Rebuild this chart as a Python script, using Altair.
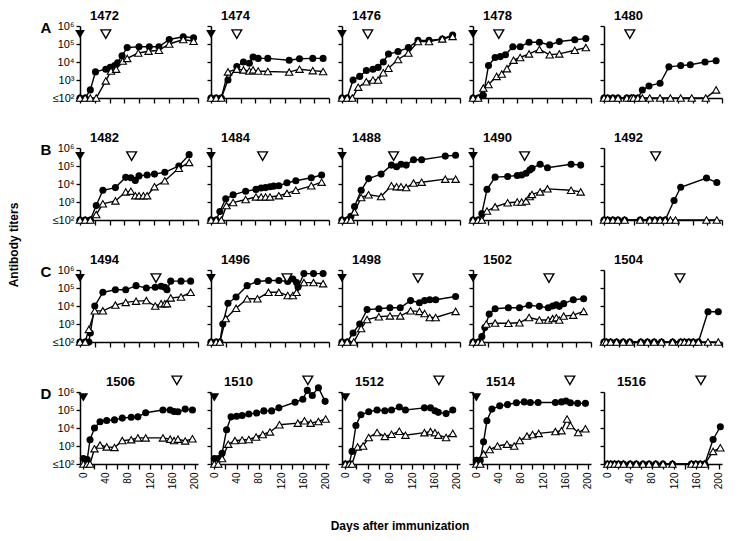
import altair as alt
import pandas as pd

FONT = "Liberation Sans"

ROW_LETTERS = ["A", "B", "C", "D"]
PANEL_IDS = [
    ["1472", "1474", "1476", "1478", "1480"],
    ["1482", "1484", "1488", "1490", "1492"],
    ["1494", "1496", "1498", "1502", "1504"],
    ["1506", "1510", "1512", "1514", "1516"],
]
PRIME_DAY = 0
BOOST_DAY = [35, 70, 103, 168]
Y_TICKS = [1e2, 1e3, 1e4, 1e5, 1e6]
Y_LABELS = ["≤10²", "10³", "10⁴", "10⁵", "10⁶"]
X_TICKS_ABC = list(range(0, 161, 20))
X_TICKS_D = list(range(0, 201, 20))
X_LABEL_STEP_D = 40

# (day, log10 titer); 2 = "<=10^2"
m1472_circles = [(0,2),(7,2),(14,2.45),(21,3.45),(35,3.6),(41,3.7),(47,3.8),(51,3.95),(57,4.35),(64,4.8),(80,4.85),(94,4.85),(107,4.85),(121,5.25),(140,5.4),(154,5.35)]
m1472_triangles = [(0,2),(7,2),(14,2),(22,2),(35,2.95),(42,3.5),(49,3.6),(58,4.05),(64,4.2),(79,4.5),(93,4.6),(107,4.65),(121,5.0),(140,5.25),(154,5.15)]
m1474_circles = [(0,2),(7,2),(14,2),(23,3.0),(35,3.75),(44,4.0),(52,3.93),(57,4.28),(64,4.2),(77,4.2),(106,4.1),(120,4.18),(138,4.2),(152,4.2)]
m1474_triangles = [(0,2),(7,2),(14,2),(23,3.45),(35,3.6),(44,3.56),(52,3.5),(57,3.56),(64,3.5),(77,3.47),(106,3.44),(120,3.6),(138,3.52),(152,3.47)]
m1476_circles = [(0,2),(7,2),(15,3.0),(24,3.2),(33,3.53),(42,3.6),(49,3.7),(56,4.0),(63,4.44),(76,4.58),(90,4.8),(103,5.2),(118,5.2),(136,5.28),(150,5.5)]
m1476_triangles = [(0,2),(7,2),(14,2),(22,2.6),(33,2.9),(42,3.0),(49,3.0),(56,3.4),(63,3.65),(76,4.14),(90,4.5),(103,5.14),(118,5.14),(136,5.28),(150,5.42)]
m1478_circles = [(0,2),(7,2),(14,2.15),(21,3.8),(30,4.25),(37,4.3),(44,4.4),(54,4.85),(64,4.85),(76,5.1),(90,5.1),(104,4.95),(117,5.14),(138,5.24),(153,5.3)]
m1478_triangles = [(0,2),(7,2),(14,2.55),(21,2.75),(32,3.2),(39,3.33),(46,3.63),(55,4.1),(64,4.25),(76,4.45),(90,4.7),(104,4.4),(117,4.45),(138,4.65),(153,4.8)]
m1480_circles = [(0,2),(5,2),(12,2),(19,2),(31,2),(37,2),(40,2),(46,2),(52,2.44),(61,2.67),(76,2.82),(88,3.73),(104,3.8),(117,3.85),(137,4.0),(152,4.07)]
m1480_triangles = [(0,2),(5,2),(12,2),(19,2),(31,2),(37,2),(40,2),(46,2),(52,2),(62,2),(76,2),(90,2),(104,2),(119,2),(138,2),(152,2.45)]

m1482_circles = [(0,2),(7,2),(14,2),(22,2.8),(31,3.65),(48,3.8),(62,4.37),(69,4.35),(75,4.2),(80,4.45),(91,4.5),(101,4.55),(115,4.65),(134,5.0),(148,5.63)]
m1482_triangles = [(0,2),(7,2),(14,2),(22,2.3),(31,2.9),(48,3.06),(62,3.56),(69,3.6),(75,3.35),(80,3.35),(86,3.35),(91,3.35),(101,3.85),(115,4.18),(134,4.87),(148,5.2)]
m1484_circles = [(0,2),(7,2),(12,2.47),(20,3.18),(30,3.4),(47,3.6),(61,3.7),(68,3.78),(74,3.8),(80,3.85),(85,3.88),(92,3.9),(103,4.07),(115,4.18),(136,4.35),(150,4.5)]
m1484_triangles = [(0,2),(7,2),(14,2),(21,2.8),(30,2.97),(47,3.14),(61,3.28),(68,3.28),(74,3.28),(80,3.28),(92,3.35),(103,3.48),(115,3.65),(136,3.9),(150,4.1)]
m1488_circles = [(0,2),(7,2),(12,2.2),(17,2.75),(26,3.65),(36,4.3),(53,4.55),(67,5.05),(74,4.96),(80,5.1),(87,5.05),(97,5.35),(108,5.35),(140,5.55),(154,5.6)]
m1488_triangles = [(0,2),(7,2),(12,2),(17,2.45),(26,3.25),(36,3.4),(53,3.3),(67,3.9),(74,3.85),(80,3.85),(87,3.8),(97,4.05),(108,4.1),(140,4.27),(154,4.27)]
m1490_circles = [(0,2),(7,2),(12,2.36),(19,3.7),(30,4.38),(47,4.42),(60,4.47),(66,4.5),(72,4.6),(77,4.78),(80,4.87),(91,5.1),(101,4.9),(133,5.1),(146,5.05)]
m1490_triangles = [(0,2),(7,2),(12,2),(19,2.5),(30,2.73),(47,2.96),(60,3.0),(66,3.0),(72,3.05),(77,3.3),(80,3.42),(91,3.56),(101,3.73),(133,3.65),(146,3.56)]
m1492_circles = [(0,2),(5,2),(12,2),(19,2),(28,2),(49,2),(62,2),(69,2),(76,2),(83,2),(95,3.08),(104,3.82),(139,4.33),(153,4.08)]
m1492_triangles = [(0,2),(5,2),(12,2),(19,2),(28,2),(49,2),(62,2),(69,2),(76,2),(83,2),(90,2),(97,2),(139,2),(153,2)]

m1494_circles = [(0,2),(7,2),(12,2),(14,2.5),(20,4.0),(31,4.76),(48,4.9),(62,4.9),(76,5.13),(90,5.0),(102,5.04),(110,5.1),(115,5.04),(118,4.9),(123,5.38),(137,5.38),(150,5.38)]
m1494_triangles = [(0,2),(7,2),(12,2.7),(20,3.73),(31,3.73),(48,4.05),(62,4.2),(76,4.27),(90,4.3),(102,4.0),(110,4.13),(115,4.13),(118,4.13),(123,4.45),(137,4.5),(150,4.76)]
m1496_circles = [(0,2),(7,2),(12,2),(16,3.0),(23,4.15),(34,4.5),(49,5.13),(63,5.36),(78,5.42),(92,5.42),(104,5.36),(111,5.5),(116,5.3),(118,5.05),(126,5.8),(139,5.8),(152,5.8)]
m1496_triangles = [(0,2),(7,2),(12,2),(20,3.3),(34,3.87),(49,4.4),(63,4.4),(78,4.76),(92,4.76),(104,4.58),(111,4.58),(116,4.76),(126,5.3),(139,5.3),(152,5.24)]
m1498_circles = [(0,2),(7,2),(15,2.5),(24,3.0),(34,3.8),(50,3.85),(65,3.9),(79,3.9),(93,4.3),(105,4.18),(112,4.3),(119,4.35),(127,4.35),(154,4.53)]
m1498_triangles = [(0,2),(7,2),(16,2),(26,2.75),(34,3.25),(50,3.4),(65,3.45),(79,3.45),(93,3.73),(105,3.7),(112,3.58),(119,3.36),(127,3.36),(154,3.7)]
m1502_circles = [(0,2),(7,2),(12,2.3),(16,2.8),(22,3.55),(30,3.85),(48,3.9),(63,3.9),(76,4.04),(90,3.98),(102,3.9),(108,4.0),(113,4.07),(117,3.98),(123,4.13),(136,4.35),(150,4.4)]
m1502_triangles = [(0,2),(7,2),(12,2),(18,3.0),(30,3.05),(48,3.04),(63,3.07),(76,3.36),(90,3.22),(102,3.22),(108,3.3),(113,3.35),(117,3.22),(123,3.44),(136,3.49),(150,3.7)]
m1504_circles = [(0,2),(3,2),(9,2),(17,2),(26,2),(35,2),(50,2),(59,2),(68,2),(78,2),(93,2),(104,2),(109,2),(115,2),(121,2),(128,2),(141,3.68),(155,3.68)]
m1504_triangles = [(0,2),(3,2),(9,2),(17,2),(26,2),(35,2),(50,2),(59,2),(68,2),(78,2),(93,2),(104,2),(109,2),(115,2),(121,2),(128,2),(141,2),(155,2)]

m1506_circles = [(0,2.3),(7,2.25),(12,3.35),(20,4.0),(30,4.35),(42,4.42),(56,4.45),(70,4.55),(86,4.6),(98,4.62),(112,4.85),(143,5.0),(156,5.0),(163,4.92),(170,4.9),(183,5.05),(196,5.0)]
m1506_triangles = [(0,2),(7,2),(12,2),(20,2.85),(30,3.05),(42,2.95),(56,2.92),(70,3.3),(86,3.35),(98,3.45),(112,3.45),(143,3.45),(156,3.38),(163,3.3),(170,3.38),(183,3.28),(196,3.4)]
m1510_circles = [(0,2.3),(7,2.3),(14,2.6),(22,3.9),(30,4.62),(40,4.65),(50,4.69),(62,4.78),(76,4.83),(89,4.95),(103,4.95),(116,5.12),(145,5.43),(159,5.6),(167,6.09),(176,5.81),(187,6.24),(199,5.48)]
m1510_triangles = [(0,2),(7,2),(14,2.3),(25,3.1),(37,3.3),(50,3.33),(62,3.36),(75,3.5),(87,3.64),(100,3.78),(117,4.18),(150,4.27),(162,4.4),(173,4.27),(187,4.36),(200,4.5)]
m1512_circles = [(0,2),(7,2),(12,2.7),(19,4.14),(28,4.74),(42,4.9),(57,5.0),(71,4.96),(83,5.0),(97,5.17),(108,5.0),(142,5.12),(153,5.12),(161,4.96),(167,4.87),(181,4.8),(193,5.0)]
m1512_triangles = [(0,2),(7,2),(12,2),(22,2.95),(32,3.0),(42,3.47),(57,3.75),(71,3.53),(83,3.65),(97,3.82),(108,3.6),(142,3.74),(153,3.8),(161,3.74),(167,3.6),(181,3.47),(193,3.7)]
m1514_circles = [(0,2.2),(7,2.2),(13,3.23),(19,4.4),(28,5.05),(42,5.23),(56,5.3),(72,5.4),(86,5.45),(97,5.42),(111,5.42),(142,5.42),(153,5.45),(161,5.5),(169,5.4),(182,5.37),(196,5.37)]
m1514_triangles = [(0,2),(7,2),(13,2.55),(24,2.8),(38,3.0),(55,3.1),(68,3.0),(78,3.3),(91,3.55),(101,3.64),(112,3.7),(142,3.8),(153,3.85),(163,4.5),(169,4.14),(183,3.75),(196,3.96)]
m1516_circles = [(0,2),(6,2),(13,2),(20,2),(29,2),(41,2),(52,2),(64,2),(75,2),(87,2),(100,2),(117,2),(151,2),(159,2),(167,2),(175,2),(190,3.36),(203,4.07)]
m1516_triangles = [(0,2),(6,2),(13,2),(20,2),(29,2),(41,2),(52,2),(64,2),(75,2),(87,2),(100,2),(117,2),(151,2),(159,2),(167,2),(175,2),(190,2.7),(203,2.9)]

SERIES = {
    "1472": (m1472_circles, m1472_triangles), "1474": (m1474_circles, m1474_triangles),
    "1476": (m1476_circles, m1476_triangles), "1478": (m1478_circles, m1478_triangles),
    "1480": (m1480_circles, m1480_triangles), "1482": (m1482_circles, m1482_triangles),
    "1484": (m1484_circles, m1484_triangles), "1488": (m1488_circles, m1488_triangles),
    "1490": (m1490_circles, m1490_triangles), "1492": (m1492_circles, m1492_triangles),
    "1494": (m1494_circles, m1494_triangles), "1496": (m1496_circles, m1496_triangles),
    "1498": (m1498_circles, m1498_triangles), "1502": (m1502_circles, m1502_triangles),
    "1504": (m1504_circles, m1504_triangles), "1506": (m1506_circles, m1506_triangles),
    "1510": (m1510_circles, m1510_triangles), "1512": (m1512_circles, m1512_triangles),
    "1514": (m1514_circles, m1514_triangles), "1516": (m1516_circles, m1516_triangles),
}

# annotation placement (log10 level of the arrow heads)
ARROW_LEVEL_PRIME = [5.55, 5.55, 5.55, 5.7]
ARROW_LEVEL_BOOST = [5.55, 5.55, 5.55, 6.65]

W, H = 118, 72


def series_df(points):
    df = pd.DataFrame(points, columns=["day", "exp"])
    df["titer"] = 10.0 ** df["exp"]
    return df


def y_label_expr():
    parts = []
    for i in range(len(Y_TICKS) - 1):
        thr = (Y_TICKS[i] * Y_TICKS[i + 1]) ** 0.5
        parts.append(f"datum.value < {thr} ? '{Y_LABELS[i]}' : ")
    return "".join(parts) + f"'{Y_LABELS[-1]}'"


def panel(pid, r, c):
    circ, tri = SERIES[pid]
    dc, dt = series_df(circ), series_df(tri)
    if r < 3:
        xscale = alt.Scale(domain=[0, 160], nice=False, zero=False)
        xaxis = alt.Axis(values=X_TICKS_ABC, labels=False, title=None, tickSize=5, grid=False)
    else:
        xscale = alt.Scale(domain=[-6, 206], nice=False, zero=False)
        xaxis = alt.Axis(values=X_TICKS_D, title=None, tickSize=5, grid=False,
                         labelExpr=f"datum.value % {X_LABEL_STEP_D} == 0 ? datum.label : ''",
                         labelAngle=270, labelFontSize=10, labelPadding=3)
    yscale = alt.Scale(type="log", domain=[Y_TICKS[0], Y_TICKS[-1]], nice=False)
    if c == 0:
        yaxis = alt.Axis(values=Y_TICKS, labelExpr=y_label_expr(), title=None, tickSize=4,
                         labelFontSize=11, labelPadding=2, grid=False)
    else:
        yaxis = alt.Axis(values=Y_TICKS, labels=False, title=None, tickSize=4, grid=False)
    X = alt.X("day:Q", scale=xscale, axis=xaxis)
    Y = alt.Y("titer:Q", scale=yscale, axis=yaxis)

    line_c = alt.Chart(dc).mark_line(color="black", strokeWidth=1.4).encode(x=X, y=Y)
    line_t = alt.Chart(dt).mark_line(color="black", strokeWidth=1.4).encode(x=X, y=Y)
    pts_c = alt.Chart(dc).mark_point(shape="circle", filled=True, color="black", size=50, opacity=1).encode(x=X, y=Y)
    pts_t = alt.Chart(dt).mark_point(shape="triangle-up", filled=True, fill="white", stroke="black",
                                     strokeWidth=1.1, size=55, opacity=1).encode(x=X, y=Y)
    layers = [line_c, line_t, pts_c, pts_t]

    boost = pd.DataFrame({"day": [BOOST_DAY[r]], "titer": [10.0 ** ARROW_LEVEL_BOOST[r]]})
    layers.append(alt.Chart(boost).mark_point(shape="triangle-down", filled=True, fill="white",
                                              stroke="black", strokeWidth=1.4, size=95, opacity=1).encode(x=X, y=Y))
    if c < 4:
        prime = pd.DataFrame({"day": [PRIME_DAY], "titer": [10.0 ** ARROW_LEVEL_PRIME[r]]})
        layers.append(alt.Chart(prime).mark_point(shape="triangle-down", filled=True, color="black",
                                                  size=95, opacity=1).encode(x=X, y=Y))

    tx = 10 if r < 3 else (26 if c == 0 else 13)
    title = alt.Chart(pd.DataFrame({"label": [pid]})).mark_text(
        align="left", baseline="middle", fontSize=13, fontWeight="bold", font=FONT, color="black"
    ).encode(x=alt.value(tx), y=alt.value(-10), text="label:N")
    layers.append(title)

    if c == 0:
        letter = alt.Chart(pd.DataFrame({"label": [ROW_LETTERS[r]]})).mark_text(
            align="center", baseline="middle", fontSize=15, fontWeight="bold", font=FONT, color="black"
        ).encode(x=alt.value(-34), y=alt.value(2), text="label:N")
        layers.append(letter)
    if r == 1 and c == 0:
        ytitle = alt.Chart(pd.DataFrame({"label": ["Antibody titers"]})).mark_text(
            align="center", baseline="middle", angle=270, fontSize=12, fontWeight="bold", font=FONT, color="black"
        ).encode(x=alt.value(-66), y=alt.value(97), text="label:N")
        layers.append(ytitle)
    if r == 3 and c == 2:
        xtitle = alt.Chart(pd.DataFrame({"label": ["Days after immunization"]})).mark_text(
            align="center", baseline="middle", fontSize=12, fontWeight="bold", font=FONT, color="black"
        ).encode(x=alt.value(58), y=alt.value(134), text="label:N")
        layers.append(xtitle)

    return alt.layer(*layers).properties(width=W, height=H)


panels = [panel(pid, r, c) for r, row in enumerate(PANEL_IDS) for c, pid in enumerate(row)]

chart = alt.concat(*panels, columns=5, spacing={"row": 50, "column": 13}, bounds="flush").properties(
    padding={"top": 2, "left": 0, "right": 0, "bottom": 0}
)
chart = chart.configure_view(stroke=None).configure_axis(
    domainColor="black", tickColor="black", domainWidth=1.5, tickWidth=1.3,
    labelColor="black", labelFont=FONT
)

chart.save("out.html", embed_options={"renderer": "svg", "actions": False})
